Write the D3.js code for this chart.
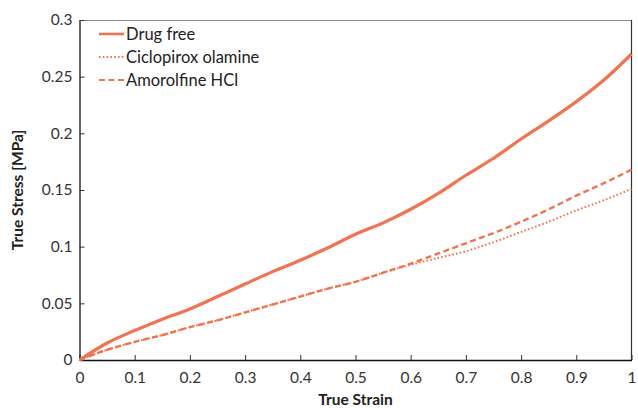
<!DOCTYPE html>
<html><head><meta charset="utf-8">
<script src="https://cdn.jsdelivr.net/npm/d3@7"></script>
<style>
html,body{margin:0;padding:0;background:#fff;}
svg text{font-family:Lato,"Open Sans",sans-serif;}
</style></head>
<body><svg id="c" width="638" height="408"></svg>
<script>
const strain = [0,0.05,0.1,0.15,0.2,0.25,0.3,0.35,0.4,0.45,0.5,0.55,0.6,0.65,0.7,0.75,0.8,0.85,0.9,0.95,1.0];
const drugFree   = [0,0.015,0.026,0.036,0.045,0.056,0.067,0.078,0.088,0.099,0.111,0.121,0.133,0.147,0.163,0.178,0.195,0.211,0.228,0.247,0.270];
const ciclopirox = [0,0.009,0.016,0.022,0.029,0.035,0.042,0.049,0.056,0.063,0.069,0.077,0.084,0.090,0.096,0.104,0.113,0.122,0.132,0.141,0.151];
const amorolfine = [0,0.009,0.016,0.022,0.029,0.035,0.042,0.049,0.056,0.063,0.069,0.077,0.085,0.094,0.103,0.112,0.122,0.133,0.145,0.156,0.168];
const seriesNames = ["Drug free","Ciclopirox olamine","Amorolfine HCl"];
const xTicks = [0,0.1,0.2,0.3,0.4,0.5,0.6,0.7,0.8,0.9,1];
const yTicks = [0,0.05,0.1,0.15,0.2,0.25,0.3];
const xTitle = "True Strain", yTitle = "True Stress [MPa]";

const color = "#F27350";
const svg = d3.select("#c");
const L=79.5, R=631.5, T=20, B=360;
const x = d3.scaleLinear().domain([0,1]).range([L,R]);
const y = d3.scaleLinear().domain([0,0.3]).range([B,T]);

// frame
svg.append("line").attr("x1",L).attr("x2",R).attr("y1",T+0.5).attr("y2",T+0.5).attr("stroke","#8a8a8a").attr("stroke-width",1.2);
svg.append("line").attr("x1",R).attr("x2",R).attr("y1",T).attr("y2",B).attr("stroke","#333").attr("stroke-width",1.2);

const fmt = d => d===0?"0":(d===1?"1":String(d));
const xAxis = svg.append("g").attr("transform",`translate(0,${B})`)
  .call(d3.axisBottom(x).tickValues(xTicks).tickSizeInner(-5).tickSizeOuter(0).tickPadding(12).tickFormat(fmt));
const yAxis = svg.append("g").attr("transform",`translate(${L},0)`)
  .call(d3.axisLeft(y).tickValues(yTicks).tickSizeInner(-5).tickSizeOuter(0).tickPadding(7).tickFormat(fmt));
[xAxis,yAxis].forEach(g=>{
  g.select(".domain").attr("stroke","#111").attr("stroke-width",1.3);
  g.selectAll(".tick line").attr("stroke","#333");
  g.selectAll(".tick text").attr("fill","#333").style("font-size","15.5px").style("font-family","Lato,sans-serif");
});

const line = d3.line().x((d,i)=>x(strain[i])).y(d=>y(d)).curve(d3.curveMonotoneX);
const styles = [
  {data:drugFree, w:3.2, dash:null},
  {data:ciclopirox, w:2, dash:"1.6,2.2"},
  {data:amorolfine, w:2.4, dash:"6,3.5"}
];
const g = svg.append("g");
styles.forEach(s=>{
  g.append("path").attr("d",line(s.data)).attr("fill","none")
   .attr("stroke",color).attr("stroke-width",s.w).attr("stroke-dasharray",s.dash);
});

// legend
const lg = svg.append("g");
seriesNames.forEach((n,i)=>{
  const yy = 34 + i*23;
  lg.append("line").attr("x1",99).attr("x2",124).attr("y1",yy).attr("y2",yy)
    .attr("stroke",color).attr("stroke-width",i===0?2.6:2).attr("stroke-dasharray",styles[i].dash);
  lg.append("text").attr("x",126).attr("y",yy).attr("dy","0.35em").text(n)
    .attr("fill","#222").style("font-size","16.5px");
});

svg.append("text").attr("x",(L+R)/2).attr("y",405).attr("text-anchor","middle")
  .style("font-weight","bold").style("font-size","15.5px").attr("fill","#222").text(xTitle);
svg.append("text").attr("transform",`translate(23,${(T+B)/2}) rotate(-90)`).attr("text-anchor","middle")
  .style("font-weight","bold").style("font-size","15.5px").attr("fill","#222").text(yTitle);
</script></body></html>
